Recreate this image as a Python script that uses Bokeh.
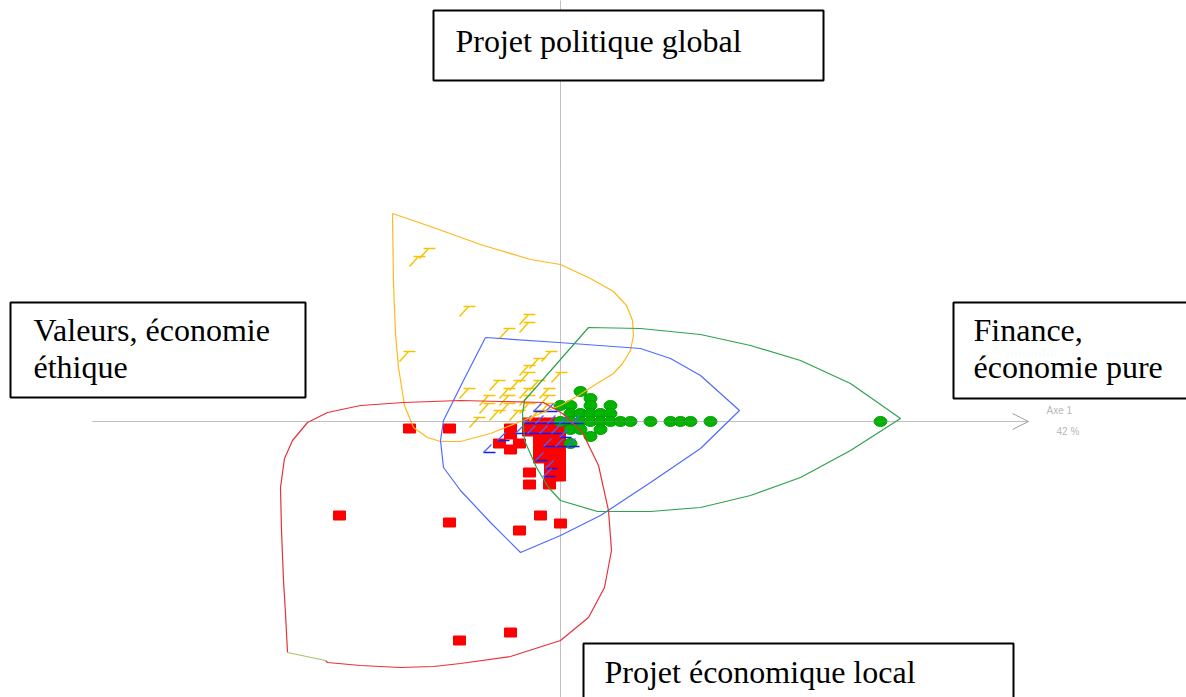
import numpy as np
from bokeh.plotting import figure
from bokeh.models import Range1d, Arrow, OpenHead
from bokeh.core.properties import value
from bokeh.embed import file_html
from bokeh.resources import INLINE

# ---------------- data (factor-map coordinates) ----------------
red_x = [-1.51, -1.11, -2.21, -1.11, -0.41, -0.20, 0.00, -1.01, -0.50,
         -0.50, -0.50, -0.32, -0.21, -0.10, -0.01, -0.32, -0.21, -0.10, -0.01,
         -0.61, -0.41, -0.50,
         -0.21, -0.10, -0.01, -0.21, -0.10, -0.01, -0.21, -0.10, -0.01,
         -0.10, -0.01, -0.10, -0.01, -0.31, -0.31, -0.11]
red_y = [-0.07, -0.07, -0.94, -1.01, -1.09, -0.94, -1.02, -2.19, -2.11,
         -0.07, -0.13, -0.01, -0.01, -0.01, -0.01, -0.10, -0.10, -0.10, -0.10,
         -0.22, -0.22, -0.28,
         -0.19, -0.19, -0.19, -0.28, -0.28, -0.28, -0.37, -0.37, -0.37,
         -0.46, -0.46, -0.55, -0.55, -0.51, -0.63, -0.63]

green_x = [0.20, 0.30, 0.00, 0.10, 0.30, 0.50, 0.10, 0.20, 0.30, 0.40, 0.50,
           0.00, 0.10, 0.20, 0.30, 0.40, 0.50, 0.60, 0.70, 0.90, 1.10, 1.20, 1.30, 1.50, 3.20,
           0.10, 0.20, 0.40, 0.30, 0.10]
green_y = [0.30, 0.23, 0.16, 0.16, 0.16, 0.16, 0.08, 0.08, 0.08, 0.08, 0.08,
           0.00, 0.00, 0.00, 0.00, 0.00, 0.00, 0.00, 0.00, 0.00, 0.00, 0.00, 0.00, 0.00, 0.00,
           -0.08, -0.08, -0.08, -0.15, -0.22]

yellow_x = [-1.31, -1.41, -0.91, -0.31, -0.31, -0.51, -1.51, -0.09, -0.21, -0.31, -0.31, 0.01,
            -0.61, -0.41, -0.21, -0.91, -0.51, -0.31, -0.11, -0.71, -0.51, -0.31, -0.11,
            -0.71, -0.51, -0.31, -0.11, -0.81, -0.61, -0.41, -0.21]
yellow_y = [1.73, 1.65, 1.15, 1.07, 0.99, 0.93, 0.70, 0.70, 0.63, 0.56, 0.49, 0.49,
            0.41, 0.41, 0.41, 0.33, 0.33, 0.33, 0.33, 0.26, 0.26, 0.26, 0.26,
            0.18, 0.18, 0.18, 0.18, 0.04, 0.11, 0.11, 0.11]

blue_x = [-0.71, -0.21, -0.09, -0.31, -0.19, -0.07, 0.05, 0.17, -0.39, -0.27, -0.15, -0.03,
          -0.11, 0.01, 0.13, -0.19, -0.09, -0.11, 0.05, -0.57]
blue_y = [-0.31, 0.10, 0.10, -0.02, -0.02, -0.02, -0.02, -0.02, -0.12, -0.12, -0.12, -0.12,
          -0.25, -0.25, -0.25, -0.39, -0.47, -0.55, -0.16, -0.19]

# envelopes of the four groups
yellow_hull_x = [-1.68, -1.30, -0.80, -0.30, 0.00, 0.30, 0.53, 0.66, 0.72, 0.73, 0.70, 0.62, 0.53,
                 0.35, 0.18, 0.00, -0.40, -0.70, -1.00, -1.20, -1.33, -1.47, -1.56, -1.62, -1.65, -1.67, -1.68]
yellow_hull_y = [2.08, 1.95, 1.77, 1.62, 1.57, 1.43, 1.30, 1.16, 1.01, 0.86, 0.71, 0.58, 0.48,
                 0.37, 0.26, 0.16, 0.00, -0.12, -0.20, -0.20, -0.16, -0.06, 0.16, 0.54, 0.88, 1.38, 2.08]

blue_hull_x = [-0.75, -0.02, 0.80, 1.10, 1.40, 1.79, 1.40, 0.90, 0.40, 0.00, -0.40, -0.70,
               -1.00, -1.17, -1.20, -1.17, -0.96, -0.75]
blue_hull_y = [0.84, 0.79, 0.73, 0.63, 0.46, 0.11, -0.27, -0.61, -0.94, -1.14, -1.31, -1.01,
               -0.69, -0.46, -0.19, 0.01, 0.43, 0.84]

green_hull_x = [0.28, 0.80, 1.40, 1.90, 2.40, 2.90, 3.40, 2.90, 2.40, 1.90, 1.40, 0.90, 0.37,
                0.00, -0.12, -0.24, -0.36, -0.38, -0.36, 0.28]
green_hull_y = [0.94, 0.93, 0.87, 0.76, 0.61, 0.38, 0.03, -0.29, -0.56, -0.74, -0.86, -0.90, -0.90,
                -0.79, -0.66, -0.46, -0.19, 0.08, 0.21, 0.94]

red_hull_x = [-2.35, -2.33, -2.00, -1.60, -1.27, -1.00, -0.50, 0.00, 0.28, 0.44, 0.51, 0.48, 0.38,
              0.22, 0.02, -0.17, -0.60, -1.00, -1.57, -2.00, -2.33, -2.53, -2.68, -2.76, -2.80,
              -2.79, -2.77, -2.75, -2.73]
red_hull_y = [-2.39, -2.41, -2.44, -2.46, -2.45, -2.42, -2.35, -2.19, -1.96, -1.66, -1.29, -0.89, -0.44,
              -0.11, 0.08, 0.19, 0.20, 0.21, 0.19, 0.16, 0.09, -0.01, -0.19, -0.37, -0.66,
              -1.09, -1.59, -1.92, -2.31]

axis_extent = 4.68
axis_name = "Axe 1"
axis_share = "42 %"

labels = [
    dict(lines=["Projet politique global"], box=(-1.27, 2.63, 4.11, 3.41), tx=-1.05, ty=[3.81]),
    dict(lines=["Valeurs, économie", "éthique"], box=(-5.50, -2.55, 1.19, 0.24), tx=-5.27, ty=[0.92, 0.55]),
    dict(lines=["Finance,", "économie pure"], box=(3.93, 6.60, 1.19, 0.23), tx=4.13, ty=[0.92, 0.55]),
    dict(lines=["Projet économique local"], box=(0.23, 4.53, -2.22, -3.20), tx=0.44, ty=[-2.50]),
]

# ---------------- figure ----------------
p = figure(width=1186, height=697, output_backend="svg", toolbar_location=None,
           x_range=Range1d(-5.60, 6.26), y_range=Range1d(-2.76, 4.21), min_border=0)
p.axis.visible = False
p.grid.visible = False
p.outline_line_color = None
p.background_fill_color = "white"

# axes
p.segment(x0=[0], y0=[4.3], x1=[0], y1=[-3.0], line_color="#808080", line_dash="1 1", line_width=1)
p.add_layout(Arrow(x_start=-axis_extent, y_start=0, x_end=axis_extent, y_end=0,
                   line_color="#808080", line_dash="1 1", line_width=1,
                   end=OpenHead(size=16, line_color="#a0a0a0", line_width=1)))

# markers
p.rect(x=red_x, y=red_y, width=0.12, height=0.09, fill_color="#ff0000", line_color="#ff0000")
p.ellipse(x=green_x, y=green_y, width=0.13, height=0.10, fill_color="#00b400", line_color="#00a000")

yx = np.array(yellow_x); yy = np.array(yellow_y)
p.segment(x0=yx - 0.06, y0=yy, x1=yx + 0.06, y1=yy, line_color="#f5c400", line_width=1.5)
p.segment(x0=yx - 0.01, y0=yy, x1=yx - 0.10, y1=yy - 0.10, line_color="#f5c400", line_width=1.5)

bx = np.array(blue_x); by = np.array(blue_y)
p.segment(x0=bx - 0.06, y0=by, x1=bx + 0.06, y1=by, line_color="#0a1cff", line_width=1.5)
p.segment(x0=bx - 0.06, y0=by, x1=bx + 0.02, y1=by + 0.08, line_color="#5060ff", line_width=1.2)

# envelopes
p.line(yellow_hull_x, yellow_hull_y, line_color="#ffb81c", line_width=1.2)
p.line(blue_hull_x, blue_hull_y, line_color="#4f6bff", line_width=1.2)
p.line(green_hull_x, green_hull_y, line_color="#2ea24e", line_width=1.2)
p.line(red_hull_x, red_hull_y, line_color="#e8303a", line_width=1.2)
p.line([red_hull_x[-1], red_hull_x[0]], [red_hull_y[-1], red_hull_y[0]], line_color="#a6c46a", line_width=1.2)

# text boxes
for lab in labels:
    l, r, t, b = lab["box"]
    p.quad(left=[l], right=[r], top=[t], bottom=[b], fill_color="white", line_color="black", line_width=2)
    p.text(x=[lab["tx"]] * len(lab["lines"]), y=lab["ty"], text=lab["lines"],
           text_font=value("Liberation Serif"), text_font_size="32px", text_color="black",
           text_baseline="alphabetic", text_align="left")

# axis labels
p.text(x=[4.86], y=[0.11], text=[axis_name], text_font=value("Liberation Sans"), text_font_size="10px",
       text_color="#b8b8b8", text_baseline="alphabetic")
p.text(x=[4.96], y=[-0.10], text=[axis_share], text_font=value("Liberation Sans"), text_font_size="10px",
       text_color="#b8b8b8", text_baseline="alphabetic")

open("out.html", "w").write(file_html(p, INLINE))
